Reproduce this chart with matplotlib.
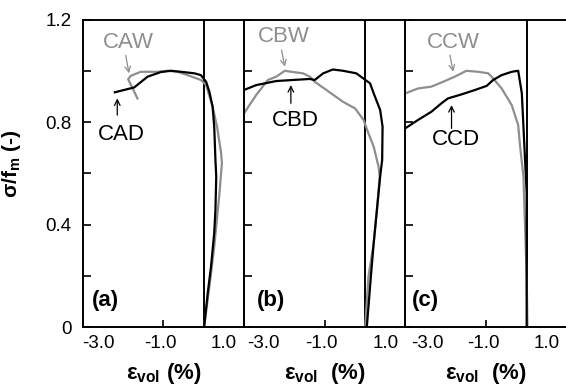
import matplotlib
matplotlib.use("Agg")
import matplotlib.pyplot as plt
from matplotlib.transforms import ScaledTranslation

plt.rcParams['font.family'] = ['Liberation Sans', 'DejaVu Sans']
plt.rcParams['mathtext.fontset'] = 'custom'
plt.rcParams['mathtext.rm'] = 'Liberation Sans'
plt.rcParams['mathtext.bf'] = 'Liberation Sans:bold'

GRAY = '#8e8e8e'

# panel (a)
cad_x = [-2.20, -1.72, -1.39, -1.06, -0.81, -0.56, -0.23, -0.07, 0.06, 0.14, 0.22,
         0.26, 0.29, 0.31, 0.29, 0.26, 0.18, 0.10, 0.01]
cad_y = [0.916, 0.935, 0.977, 0.995, 1.0, 0.996, 0.990, 0.983, 0.957, 0.918, 0.86,
         0.782, 0.652, 0.587, 0.457, 0.367, 0.235, 0.133, 0.0]
caw_x = [-1.64, -1.87, -1.81, -1.56, -1.14, -0.89, -0.65, -0.40, -0.07, 0.06, 0.22,
         0.33, 0.43, 0.45, 0.39, 0.35, 0.26, 0.14, 0.01]
caw_y = [0.892, 0.967, 0.980, 0.996, 0.996, 1.0, 0.996, 0.983, 0.964, 0.944, 0.86,
         0.782, 0.679, 0.64, 0.523, 0.457, 0.313, 0.157, 0.0]

# panel (b)
cbd_x = [-3.0, -2.70, -2.20, -1.79, -1.37, -1.25, -1.04, -0.80, -0.55, -0.22, 0.12,
         0.21, 0.37, 0.43, 0.42, 0.37, 0.29, 0.21, 0.14, 0.04]
cbd_y = [0.925, 0.944, 0.96, 0.964, 0.968, 0.964, 0.99, 1.005, 1.0, 0.99, 0.951,
         0.912, 0.847, 0.782, 0.652, 0.587, 0.457, 0.327, 0.196, 0.0]
cbw_x = [-3.0, -2.70, -2.41, -2.20, -1.99, -1.83, -1.54, -1.37, -1.25, -0.96, -0.55,
         -0.25, -0.04, 0.08, 0.21, 0.33, 0.36, 0.29, 0.21, 0.08, 0.0]
cbw_y = [0.834, 0.905, 0.964, 0.977, 1.0, 0.996, 0.99, 0.977, 0.957, 0.925, 0.879,
         0.853, 0.808, 0.756, 0.704, 0.626, 0.587, 0.457, 0.327, 0.196, 0.0]

# panel (c)
ccd_x = [-3.0, -2.69, -2.36, -2.11, -1.95, -1.61, -1.28, -0.99, -0.83, -0.62, -0.37,
         -0.21, -0.12, -0.08, -0.04, 0.0, 0.0]
ccd_y = [0.776, 0.808, 0.84, 0.873, 0.892, 0.908, 0.925, 0.941, 0.964, 0.983, 0.996,
         1.0, 0.912, 0.782, 0.652, 0.523, 0.0]
ccw_x = [-3.0, -2.69, -2.36, -2.07, -1.78, -1.49, -1.20, -0.95, -0.83, -0.62, -0.37,
         -0.21, -0.17, -0.08, -0.04, 0.0, 0.02]
ccw_y = [0.912, 0.931, 0.938, 0.957, 0.977, 1.0, 0.996, 0.99, 0.97, 0.931, 0.866,
         0.788, 0.717, 0.586, 0.391, 0.196, 0.0]

panels = [
    dict(dry=(cad_x, cad_y), wet=(caw_x, caw_y), tag='(a)', wname='CAW', dname='CAD',
         wtext=(-1.87, 1.11), wtail=(-1.93, 1.06), whead=(-1.85, 0.99),
         dtext=(-2.04, 0.751), dtail=(-2.14, 0.827), dhead=(-2.14, 0.892),
         tagx=-2.76, xlabel='ε$_{\\mathbf{vol}}$ (%)'),
    dict(dry=(cbd_x, cbd_y), wet=(cbw_x, cbw_y), tag='(b)', wname='CBW', dname='CBD',
         wtext=(-2.01, 1.135), wtail=(-2.07, 1.081), whead=(-1.99, 1.016),
         dtext=(-1.74, 0.804), dtail=(-1.84, 0.873), dhead=(-1.84, 0.944),
         tagx=-2.69, xlabel='ε$_{\\mathbf{vol}}$  (%)'),
    dict(dry=(ccd_x, ccd_y), wet=(ccw_x, ccw_y), tag='(c)', wname='CCW', dname='CCD',
         wtext=(-1.82, 1.11), wtail=(-1.90, 1.061), whead=(-1.82, 0.996),
         dtext=(-1.75, 0.73), dtail=(-1.86, 0.775), dhead=(-1.86, 0.866),
         tagx=-2.85, xlabel='ε$_{\\mathbf{vol}}$  (%)'),
]

fig = plt.figure(figsize=(5.66, 3.85), dpi=100)
lefts = [0.1458, 0.4311, 0.7164]

for i, p in enumerate(panels):
    ax = fig.add_axes([lefts[i], 0.1506, 0.2855, 0.7987])
    ax.set_xlim(-3, 1)
    ax.set_ylim(0, 1.2)
    ax.axvline(0, color='black', lw=1.4, zorder=1)

    ax.plot(*p['wet'], color=GRAY, lw=1.6, zorder=2)
    ax.plot(*p['dry'], color='black', lw=1.6, zorder=3)

    ax.text(*p['wtext'], p['wname'], color=GRAY, fontsize=16, ha='center', va='center')
    ax.annotate('', xy=p['whead'], xytext=p['wtail'],
                arrowprops=dict(arrowstyle='->', color=GRAY, lw=0.9,
                                shrinkA=0, shrinkB=0))
    ax.text(*p['dtext'], p['dname'], color='black', fontsize=16, ha='center', va='center')
    ax.annotate('', xy=p['dhead'], xytext=p['dtail'],
                arrowprops=dict(arrowstyle='->', color='black', lw=0.9,
                                shrinkA=0, shrinkB=0))
    ax.text(p['tagx'], 0.105, p['tag'], fontsize=16, fontweight='bold',
            ha='left', va='center')

    for s in ax.spines.values():
        s.set_linewidth(1.4)

    ax.set_yticks([0, 0.2, 0.4, 0.6, 0.8, 1.0, 1.2])
    if i == 0:
        ax.set_yticklabels(['0', '', '0.4', '', '0.8', '', '1.2'])
        ax.set_ylabel('σ/f$_{\\mathbf{m}}$ (-)', fontsize=15, fontweight='bold', labelpad=6)
        ax.yaxis.set_label_coords(-0.37, 0.53)
    else:
        ax.set_yticklabels([])
    ax.tick_params(axis='y', direction='in', length=6, width=1.2, labelsize=13.5, pad=8)

    ax.set_xticks([-3, -1, 1])
    ax.set_xticklabels(['-3.0', '-1.0', '1.0'])
    ax.tick_params(axis='x', direction='in', length=5, width=1.2, labelsize=13.5, pad=6)
    xl = ax.get_xticklabels()
    xl[0].set_ha('left')
    xl[0].set_transform(xl[0].get_transform() + ScaledTranslation(0.03 * i, 0, fig.dpi_scale_trans))
    xl[1].set_transform(xl[1].get_transform() + ScaledTranslation(-0.03, 0, fig.dpi_scale_trans))
    xl[2].set_ha('right')
    xl[2].set_transform(xl[2].get_transform() + ScaledTranslation(-0.07, 0, fig.dpi_scale_trans))
    ax.set_xlabel(p['xlabel'], fontsize=16, fontweight='bold', labelpad=6)

fig.savefig('out.png', dpi=100)
